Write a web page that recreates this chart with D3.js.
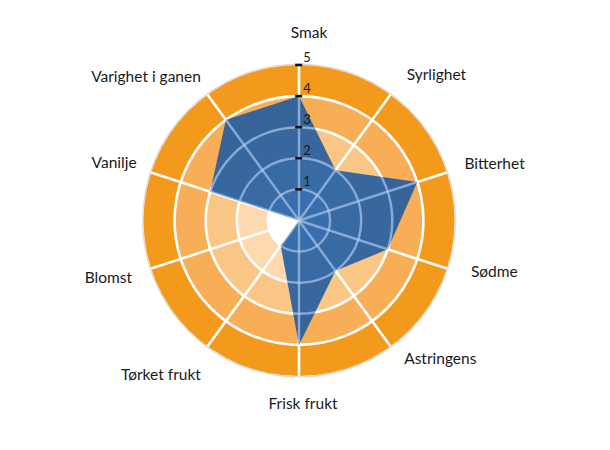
<!DOCTYPE html>
<html>
<head>
<meta charset="utf-8">
<script src="https://cdn.jsdelivr.net/npm/d3@7"></script>
<style>
  html, body { margin: 0; padding: 0; background: #fff; }
  svg { display: block; }
  text { font-family: Lato, "Open Sans", sans-serif; }
</style>
</head>
<body>
<svg id="chart" width="610" height="450"></svg>
<script>
// ---- data ----
const categories = ["Smak", "Syrlighet", "Bitterhet", "Sødme", "Astringens",
                    "Frisk frukt", "Tørket frukt", "Blomst", "Vanilje", "Varighet i ganen"];
const values = [4, 2, 4, 3, 2, 4, 1, 0, 3, 4];
const tickValues = [1, 2, 3, 4, 5];
const tickLabels = ["1", "2", "3", "4", "5"];
const bandColors = ["#ffffff", "#fdd9ad", "#fac685", "#f7ae57", "#f39a1d"];

// ---- layout ----
const cx = 299, cy = 220.5, R = 155.5;
// small label nudges (layout only)
const labelNudge = [[10,-12],[4.5,-4],[-1.5,-2],[5,-3],[2,-3.5],[4,8],[5,12.5],[0,3.5],[4.5,-3],[5,-2]];

const svg = d3.select("#chart");
const g = svg.append("g").attr("transform", `translate(${cx},${cy})`);

const r = d3.scaleLinear().domain([0, 5]).range([0, R]);
const angle = d3.scaleLinear().domain([0, categories.length]).range([0, 2 * Math.PI]);

// outer faint border
g.append("circle").attr("r", R + 0.8).attr("fill", "none")
  .attr("stroke", "#d9d9d9").attr("stroke-width", 1.2);

// bands
const arc = d3.arc();
g.selectAll("path.band").data(d3.range(5)).join("path")
  .attr("class", "band")
  .attr("d", i => arc({innerRadius: r(i), outerRadius: r(i + 1), startAngle: 0, endAngle: 2 * Math.PI}))
  .attr("fill", i => bandColors[i]);

function drawGrid(sel, color, width) {
  sel.selectAll("circle.grid").data(tickValues.slice(0, 4)).join("circle")
    .attr("class", "grid")
    .attr("r", d => r(d)).attr("fill", "none")
    .attr("stroke", color).attr("stroke-width", width);
  sel.selectAll("line.spoke").data(categories).join("line")
    .attr("class", "spoke")
    .attr("x1", 0).attr("y1", 0)
    .attr("x2", (d, i) => r(5) * Math.sin(angle(i)))
    .attr("y2", (d, i) => -r(5) * Math.cos(angle(i)))
    .attr("stroke", color).attr("stroke-width", width);
}

// grid under polygon (white)
drawGrid(g.append("g"), "#ffffff", 2.6);

// polygon
const line = d3.lineRadial()
  .angle((d, i) => angle(i))
  .radius(d => r(d))
  .curve(d3.curveLinearClosed);

const polyPath = line(values);
g.append("path").attr("d", polyPath)
  .attr("fill", "#1c5aa2").attr("fill-opacity", 0.88);

// grid over polygon (clipped)
svg.append("clipPath").attr("id", "polyClip")
  .append("path").attr("d", polyPath).attr("transform", `translate(${cx},${cy})`);
const overG = svg.append("g").attr("clip-path", "url(#polyClip)")
  .append("g").attr("transform", `translate(${cx},${cy})`);
drawGrid(overG, "rgba(190,210,240,0.6)", 2.4);

// top layer
const topG = svg.append("g").attr("transform", `translate(${cx},${cy})`);

// ticks on vertical axis
topG.selectAll("line.tick").data(tickValues).join("line")
  .attr("class", "tick")
  .attr("x1", -3.8).attr("x2", 3.2)
  .attr("y1", d => -r(d)).attr("y2", d => -r(d))
  .attr("stroke", "#111").attr("stroke-width", 2.6);
topG.selectAll("text.tickLabel").data(tickValues).join("text")
  .attr("class", "tickLabel")
  .attr("x", 4.2).attr("y", d => -r(d) - 3)
  .attr("font-size", 13).attr("fill", "#1a1a1a")
  .text((d, i) => tickLabels[i]);

// category labels
const lr = R + 20;
topG.selectAll("text.cat").data(categories).join("text")
  .attr("class", "cat")
  .attr("x", (d, i) => lr * Math.sin(angle(i)) + labelNudge[i][0])
  .attr("y", (d, i) => -lr * Math.cos(angle(i)) + 5 + labelNudge[i][1])
  .attr("text-anchor", (d, i) => {
    const s = Math.sin(angle(i));
    return s > 0.01 ? "start" : (s < -0.01 ? "end" : "middle");
  })
  .attr("font-size", 15.5).attr("fill", "#1a1a1a")
  .text(d => d);
</script>
</body>
</html>
